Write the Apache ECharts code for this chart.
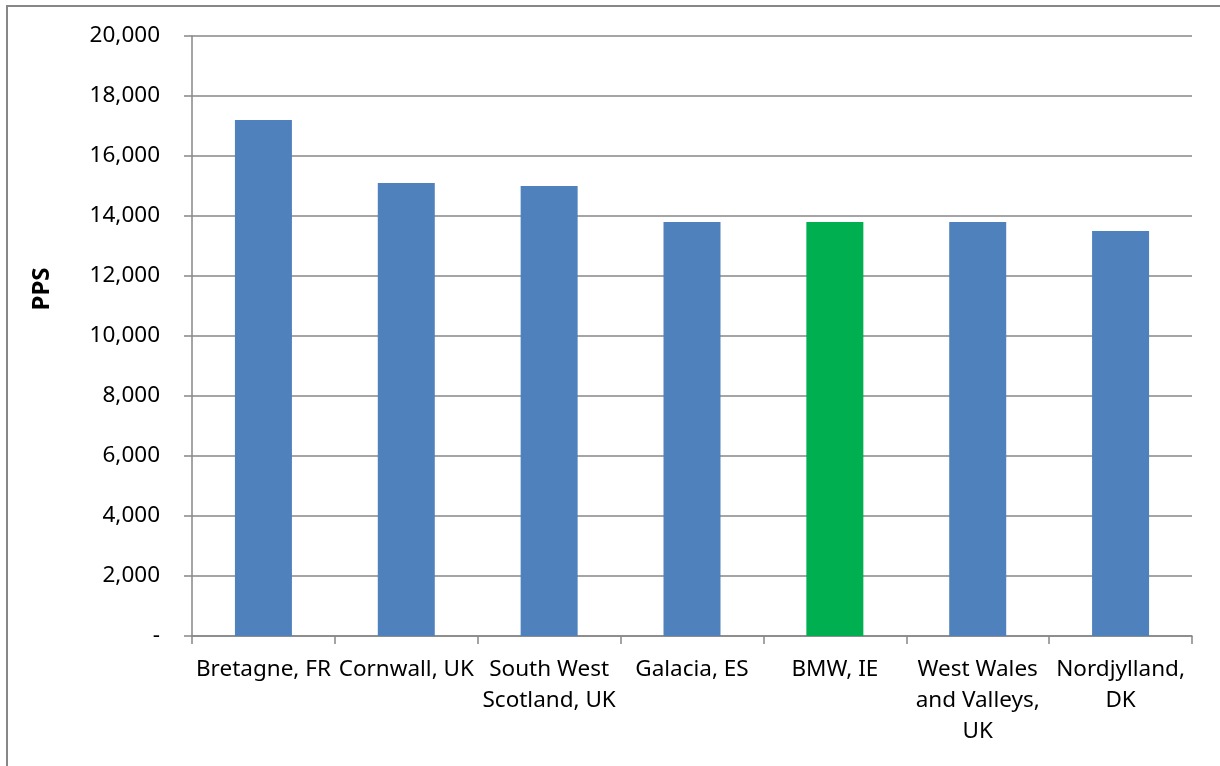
<!DOCTYPE html>
<html>
<head>
<meta charset="utf-8">
<script src="https://cdn.jsdelivr.net/npm/echarts@6/dist/echarts.min.js"></script>
<style>
  html, body { margin: 0; padding: 0; background: #fff; }
  #chart { width: 1220px; height: 766px; }
</style>
</head>
<body>
<div id="chart"></div>
<script>
// categories and values
const regions = [
  'Bretagne, FR',
  'Cornwall, UK',
  'South West\nScotland, UK',
  'Galacia, ES',
  'BMW, IE',
  'West Wales\nand Valleys,\nUK',
  'Nordjylland,\nDK'
]
const pps = [17200, 15100, 15000, 13800, 13800, 13800, 13500]
const highlight = 'BMW, IE'

const gray = '#878787'
const font = '"Noto Sans", "DejaVu Sans", sans-serif'

const myChart = echarts.init(document.getElementById('chart'))

const option = {
  animation: false,
  backgroundColor: '#fff',
  grid: {
    left: 192,
    right: 28,
    top: 36,
    bottom: 130
  },
  graphic: [
    {
      // outer frame (only top and left edges show)
      type: 'rect',
      shape: { x: 7, y: 6, width: 1400, height: 1000 },
      style: { fill: 'none', stroke: gray, lineWidth: 2 }
    },
    {
      type: 'text',
      x: 42,
      y: 289,
      rotation: Math.PI / 2,
      style: {
        text: 'PPS',
        font: 'bold 24px ' + font,
        fill: '#000',
        align: 'center',
        verticalAlign: 'middle'
      }
    }
  ],
  xAxis: {
    type: 'category',
    data: regions,
    axisLine: { lineStyle: { color: gray, width: 1.5 } },
    axisTick: {
      show: true,
      length: 8,
      lineStyle: { color: gray, width: 1.5 }
    },
    axisLabel: {
      interval: 0,
      margin: 18,
      color: '#000',
      fontFamily: font,
      fontSize: 22.5,
      lineHeight: 31
    }
  },
  yAxis: {
    type: 'value',
    min: 0,
    max: 20000,
    interval: 2000,
    axisLine: { show: true, lineStyle: { color: gray, width: 1.5 } },
    axisTick: {
      show: true,
      length: 8,
      lineStyle: { color: gray, width: 1.5 }
    },
    axisLabel: {
      margin: 32,
      color: '#000',
      fontFamily: font,
      fontSize: 22.5,
      formatter(val) {
        return val === 0 ? '-' : val.toLocaleString('en-US')
      }
    },
    splitLine: {
      lineStyle: { color: gray, width: 1.5 }
    }
  },
  series: [{
    type: 'bar',
    barWidth: 57,
    data: pps.map((v, i) => ({
      value: v,
      itemStyle: { color: regions[i] === highlight ? '#00B050' : '#4F81BD' }
    }))
  }]
}

myChart.setOption(option)
</script>
</body>
</html>
